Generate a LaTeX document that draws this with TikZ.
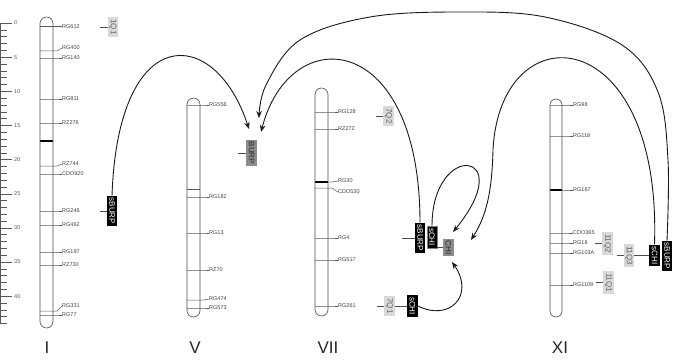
\documentclass[tikz,border=0pt]{standalone}
\usepackage{fontspec}
\setmainfont{Liberation Sans}
\usetikzlibrary{arrows.meta}
\begin{document}
\begin{tikzpicture}[x=1pt,y=-1pt,
  chrom/.style={draw=black!70, line width=0.6pt},
  mk/.style={draw=black!65, line width=0.5pt},
  mklab/.style={font=\fontsize{5.5}{6}\selectfont, text=black!75, anchor=west, inner sep=0pt},
  band/.style={draw=black, line width=2.2pt},
  tickline/.style={draw=black!65, line width=0.5pt},
  ticklab/.style={font=\fontsize{5.5}{6}\selectfont, text=black!65, anchor=west, inner sep=0pt},
  boxlab/.style={rotate=-90, font=\fontsize{8}{8}\selectfont, inner xsep=2pt, inner ysep=1pt, minimum height=10.5pt},
  qtl/.style={boxlab, fill=black!15, text=black!60},
  gene/.style={boxlab, fill=black!45, text=black!85},
  sig/.style={boxlab, fill=black, text=white},
  lead/.style={draw=black!70, line width=0.5pt},
  arc/.style={draw=black!90, line width=0.9pt, -{Stealth[length=7pt,width=5.5pt]}},
  chrlab/.style={font=\fontsize{17}{17}\selectfont, text=black!85},
]
\useasboundingbox (0,0) rectangle (673,361);

% scale
\draw[tickline] (0.5,23) -- (0.5,323.5);
\foreach \k in {0,...,44} {
  \pgfmathsetmacro\yy{23+6.83*\k}
  \draw[tickline] (0,\yy) -- (7,\yy);
}
\foreach \k in {0,5,...,40} {
  \pgfmathsetmacro\yy{23+6.83*\k}
  \draw[tickline] (0,\yy) -- (12,\yy);
  \node[ticklab] (t\k) at (14,\yy) {\k};
}

% chromosome I
\foreach \y/\ly/\t [count=\i] in {26.7/26.7/RG612, 51/48/RG400, 58/58/RG140, 99/99/RG811,
  123/123/RZ276, 166/164/RZ744, 174/174/CDO920, 211/211/RG246, 225/225/RG462,
  252/252/RG197, 265/265/RZ730, 311/306/RG331, 315/315/RG77} {
  \node[mklab] (I-\i) at (62,\ly) {\t};
  \draw[mk] (40,\y) -- (57,\y) -- (I-\i.west);
}
\draw[band] (40,141) -- (53,141);
\draw[chrom, rounded corners=6.5pt] (40,17) rectangle (53,328);

% chromosome V
\draw[mk] (187,189) -- (200,189);
\foreach \y/\ly/\t [count=\i] in {105/105/RG556, 197/197/RG182, 233/233/RG13, 270/270/RZ70,
  300/299/RG474, 308/308/RG573} {
  \node[mklab] (V-\i) at (209,\ly) {\t};
  \draw[mk] (187,\y) -- (204,\y) -- (V-\i.west);
}
\draw[chrom, rounded corners=6.5pt] (187,98) rectangle (200,317);

% chromosome VII
\foreach \y/\ly/\t [count=\i] in {112/112/RG128, 129/129/RZ272, 182/181/RG30, 188/192/CDO530,
  238/238/RG4, 260/260/RG517, 306/306/RG261} {
  \node[mklab] (VII-\i) at (338,\ly) {\t};
  \draw[mk] (315,\y) -- (332,\y) -- (VII-\i.west);
}
\draw[band] (315,182) -- (328,182);
\draw[chrom, rounded corners=6.5pt] (315,88) rectangle (328,316);

% chromosome XI
\foreach \y/\ly/\t [count=\i] in {105/105/RG98, 136/136/RG118, 190/190/RG167, 233/233/CDO365,
  243/243/RG18, 253/253/RG103A, 285/285/RG1109} {
  \node[mklab] (XI-\i) at (573,\ly) {\t};
  \draw[mk] (550,\y) -- (567,\y) -- (XI-\i.west);
}
\draw[band] (550,190) -- (562,190);
\draw[chrom, rounded corners=6pt] (550,99) rectangle (562,317);

% boxes
\node[qtl] (q1Q1) at (113,27) {1Q1};
\node[sig] (sI) at (112,211) {sBURP};
\node[gene] (gV) at (251.5,153) {BURP};
\node[qtl] (q7Q2) at (388.5,116) {7Q2};
\node[sig] (s7burp) at (420,238) {sBURP};
\node[sig, draw=black!50, line width=0.3pt] (s7chi) at (432,237) {sCHI};
\node[gene] (g7chi) at (448.5,247.5) {CHI};
\node[qtl] (q7Q1) at (389.5,306) {7Q1};
\node[sig] (s7chiB) at (412.5,306) {sCHI};
\node[qtl] (q11Q2) at (607.5,243.5) {11Q2};
\node[qtl] (q11Q3) at (629,255.5) {11Q3};
\node[sig] (s11chi) at (654.5,255.5) {sCHI};
\node[sig] (s11burp) at (667,256) {sBURP};
\node[qtl] (q11Q1) at (608.5,282.5) {11Q1};

% leaders
\coordinate (c1Q1) at (100,27);
\coordinate (cI) at (100,211);
\coordinate (cV) at (238,153);
\coordinate (c7Q2) at (376,116);
\coordinate (c7b) at (402,238);
\coordinate (c7Q1) at (377,306);
\coordinate (c11Q2) at (595,243.5);
\coordinate (c11Q3) at (617,255.5);
\coordinate (c11Q1) at (596,282.5);
\draw[lead] (c1Q1) -- (q1Q1);
\draw[lead] (cI) -- (sI);
\draw[lead] (cV) -- (gV);
\draw[lead] (c7Q2) -- (q7Q2);
\draw[lead] (c7b) -- (s7burp);
\draw[lead] (s7chi.north |- g7chi.center) -- (g7chi.south);
\draw[lead] (c7Q1) -- (q7Q1);
\draw[lead] (q7Q1) -- (s7chiB);
\draw[lead] (c11Q2) -- (q11Q2);
\draw[lead] (c11Q3) -- (q11Q3);
\draw[lead] (q11Q3) -- (s11chi);
\draw[lead] (c11Q1) -- (q11Q1);

% arcs
\coordinate (tA) at (249,129);
\coordinate (tB) at (259,118);
\coordinate (tC) at (261,132);
\coordinate (tD) at (471,240);
\coordinate (tE) at (453,232);
\coordinate (tF) at (452,262);
\draw[arc] (sI.west) .. controls (118,20) and (215,25) .. (tA);
\draw[arc] plot[smooth, tension=0.6] coordinates {(s11burp.west) (668,160) (658,92) (622,45) (545,17) (460,12) (370,17) (300,40) (266,85) (tB)};
\draw[arc] (s7burp.west) .. controls (420,30) and (290,20) .. (tC);
\draw[arc] (s11chi.west) .. controls (662,20) and (500,10) .. (493,150) .. controls (492,190) and (487,215) .. (tD);
\draw[arc] (s7chi.west) .. controls (432,140) and (520,150) .. (tE);
\draw[arc] (s7chiB.north) .. controls (450,322) and (475,295) .. (tF);

% chromosome names
\node[chrlab] (nI) at (47,348) {I};
\node[chrlab] (nV) at (195,348) {V};
\node[chrlab] (nVII) at (328,348) {VII};
\node[chrlab] (nXI) at (560,348) {XI};
\end{tikzpicture}
\end{document}
